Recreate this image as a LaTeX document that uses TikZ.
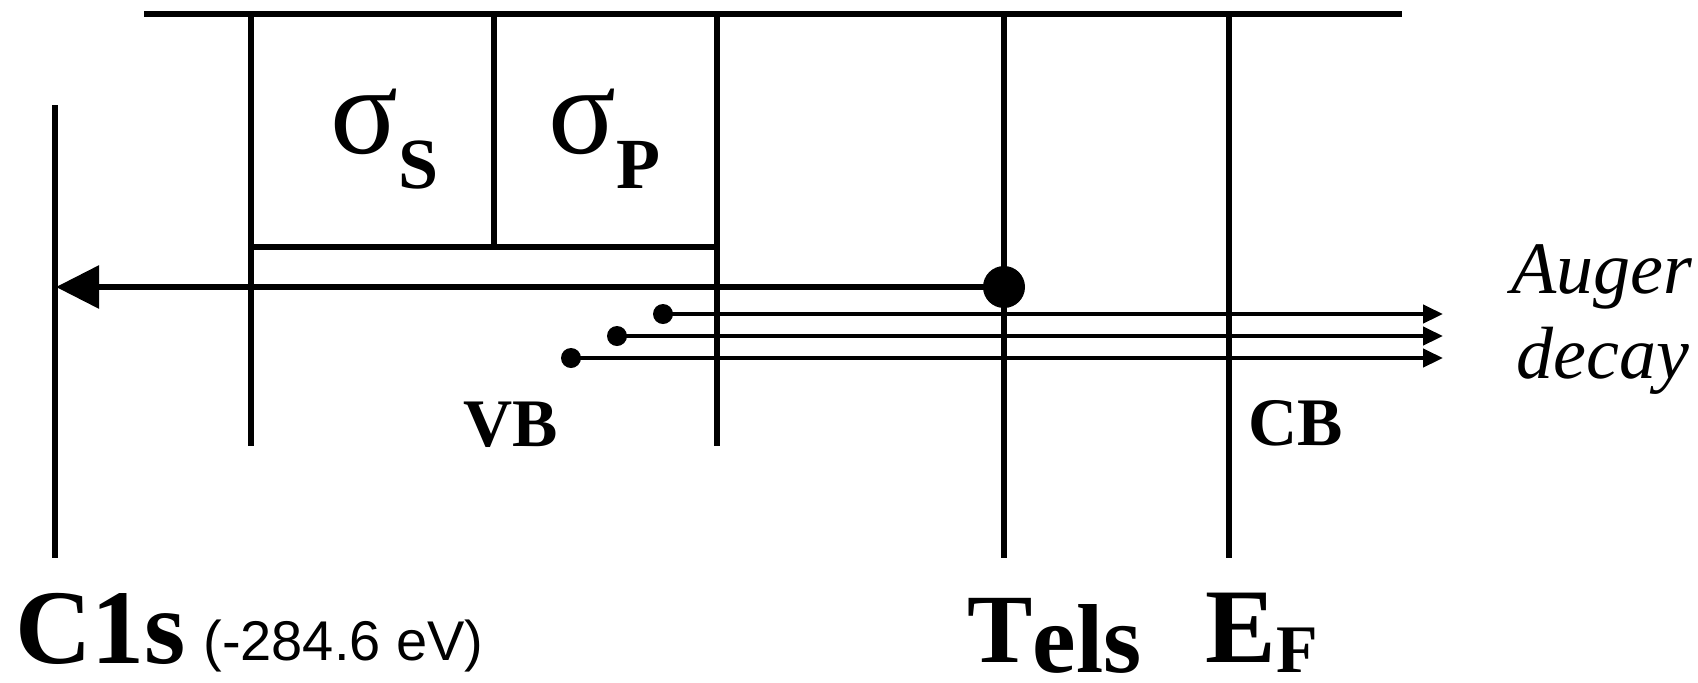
\documentclass[tikz,border=0pt]{standalone}
\usepackage{fontspec}
\setmainfont{Liberation Serif}
\newfontfamily\sansf{Liberation Sans}
\usetikzlibrary{arrows.meta}
\begin{document}
\begin{tikzpicture}[x=0.5pt,y=-0.5pt,
  lvl/.style={line width=2.6pt},
  mainarrow/.style={line width=3pt,-{Triangle[length=21.5pt,width=21pt]}},
  augerarrow/.style={line width=2.2pt,-{Triangle[length=10pt,width=9pt]}},
  smalldot/.style={circle,fill=black,inner sep=0pt,minimum size=10pt},
  bigdot/.style={circle,fill=black,inner sep=0pt,minimum size=21pt},
  lbl/.style={inner sep=0pt,anchor=base west,text depth=0pt},
  big/.style={font=\fontsize{53}{53}\selectfont\bfseries},
  band/.style={font=\fontsize{34}{34}\selectfont\bfseries},
  ital/.style={font=\fontsize{37}{37}\selectfont\itshape}
]
\useasboundingbox (0,0) rectangle (1698,682);
% coordinates
\coordinate (topL) at (144,14);
\coordinate (topR) at (1402,14);
\coordinate (c1sT) at (55,105);
\coordinate (c1sB) at (55,558);
\coordinate (vbLT) at (251,14);
\coordinate (vbLB) at (251,446);
\coordinate (vbRT) at (717,14);
\coordinate (vbRB) at (717,446);
\coordinate (sigT) at (494,14);
\coordinate (sigB) at (494,247);
\coordinate (baseL) at (249,247);
\coordinate (baseR) at (717,247);
\coordinate (telsT) at (1004,14);
\coordinate (telsB) at (1004,558);
\coordinate (efT) at (1229,14);
\coordinate (efB) at (1229,558);
\coordinate (tipMain) at (56,287);
\coordinate (tip1) at (1443,314);
\coordinate (tip2) at (1443,336);
\coordinate (tip3) at (1443,358);
% level lines
\draw[lvl] (topL) -- (topR);
\draw[lvl] (c1sT) -- (c1sB);
\draw[lvl] (vbLT) -- (vbLB);
\draw[lvl] (vbRT) -- (vbRB);
\draw[lvl] (sigT) -- (sigB);
\draw[lvl] (baseL) -- (baseR);
\draw[lvl] (telsT) -- (telsB);
\draw[lvl] (efT) -- (efB);
% dots
\node[bigdot] (hole) at (1004,287) {};
\node[smalldot] (d1) at (663,314) {};
\node[smalldot] (d2) at (617,336) {};
\node[smalldot] (d3) at (571,358) {};
% arrows
\draw[mainarrow] (hole.center) -- (tipMain);
\draw[augerarrow] (d1.center) -- (tip1);
\draw[augerarrow] (d2.center) -- (tip2);
\draw[augerarrow] (d3.center) -- (tip3);
% labels
\node[lbl] (sigS) at (330,153) {\fontsize{63}{63}\selectfont σ\raisebox{-17.5pt}{\fontsize{36}{36}\selectfont\bfseries S}};
\node[lbl] (sigP) at (548,153) {\fontsize{63}{63}\selectfont σ\raisebox{-17.5pt}{\fontsize{36}{36}\selectfont\bfseries P}};
\node[lbl,band] (vb) at (463,446) {VB};
\node[lbl,band] (cb) at (1248,445) {CB};
\node[lbl,ital] (auger) at (1511,293) {Auger};
\node[lbl,ital] (decay) at (1516,378) {decay};
\node[lbl,big] (c1s) at (15,663) {C1s};
\node[lbl,font=\fontsize{28}{28}\selectfont\sansf] (ev) at (203,660) {(-284.6 eV)};
\node[lbl,font=\fontsize{49}{49}\selectfont\bfseries] (tels) at (967,662) {T\raisebox{-5pt}{els}};
\node[lbl,big] (ef) at (1205,662) {E\raisebox{-5pt}{\fontsize{34}{34}\selectfont F}};
\end{tikzpicture}
\end{document}
